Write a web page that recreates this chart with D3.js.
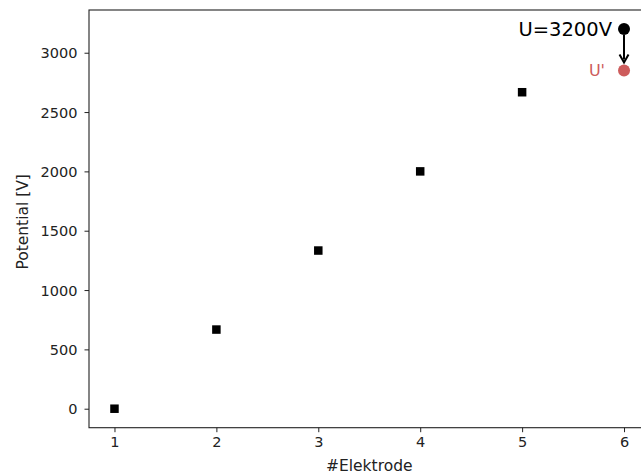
<!DOCTYPE html>
<html><head><meta charset="utf-8">
<script src="https://cdn.jsdelivr.net/npm/d3@7"></script>
<style>
body{margin:0;background:#fff;}
svg{display:block;font-family:"DejaVu Sans",sans-serif;}
</style></head><body>
<svg id="c" width="641" height="475"></svg>
<script>
const electrodes = [1, 2, 3, 4, 5];
const potentials = [0, 667, 1333, 2000, 2667];
const sourceX = 6, sourceU = 3200, primeU = 2850;
const sourceLabel = "U=3200V", primeLabel = "U'";
const xTicks = [1, 2, 3, 4, 5, 6];
const yTicks = [0, 500, 1000, 1500, 2000, 2500, 3000];

const m = {l: 89, t: 10, r: 649.5, b: 427.7};
const svg = d3.select("#c");
const x = d3.scaleLinear().domain([0.75, 6.25]).range([m.l, m.r]);
const y = d3.scaleLinear().domain([-160, 3360]).range([m.b, m.t]);
const red = "#cd5c5c";
const tickFont = 14.5, labelFont = 15.5;

const gx = svg.append("g").attr("transform", `translate(0,${m.b})`)
  .call(d3.axisBottom(x).tickValues(xTicks).tickFormat(d3.format("d")).tickSize(4.5).tickPadding(5));
const gy = svg.append("g").attr("transform", `translate(${m.l},0)`)
  .call(d3.axisLeft(y).tickValues(yTicks).tickFormat(d3.format("d")).tickSize(4.5).tickPadding(7));
[gx, gy].forEach(g => {
  g.select(".domain").remove();
  g.selectAll(".tick line").attr("stroke", "#222").attr("stroke-width", 1);
  g.selectAll(".tick text").attr("font-size", tickFont).attr("fill", "#222").attr("font-family", "DejaVu Sans");
});
gy.selectAll(".tick text").attr("dy", "0.36em");

// spines
svg.append("rect").attr("x", m.l).attr("y", m.t).attr("width", m.r - m.l).attr("height", m.b - m.t)
  .attr("fill", "none").attr("stroke", "#222").attr("stroke-width", 1.1);

// axis labels
svg.append("text").attr("x", (m.l + m.r) / 2).attr("y", 471).attr("text-anchor", "middle")
  .attr("font-size", labelFont).attr("fill", "#222").text("#Elektrode");
svg.append("text").attr("transform", `translate(28,${(m.t + m.b) / 2 + 3}) rotate(-90)`).attr("text-anchor", "middle")
  .attr("font-size", labelFont).attr("fill", "#222").text("Potential [V]");

// squares
const s = 8.5;
svg.append("g").selectAll("rect").data(electrodes).join("rect")
  .attr("x", (d) => x(d) - s / 2).attr("y", (d, i) => y(potentials[i]) - s / 2)
  .attr("width", s).attr("height", s).attr("fill", "#000");

// source and U'
const cx = x(sourceX);
svg.append("circle").attr("cx", cx).attr("cy", y(sourceU)).attr("r", 6).attr("fill", "#000");
svg.append("circle").attr("cx", cx).attr("cy", y(primeU)).attr("r", 6).attr("fill", red);
svg.append("text").attr("x", cx - 12).attr("y", y(sourceU)).attr("dy", "0.36em").attr("text-anchor", "end")
  .attr("font-size", 19.5).attr("fill", "#000").text(sourceLabel);
svg.append("text").attr("x", cx - 19).attr("y", y(primeU)).attr("dy", "0.36em").attr("text-anchor", "end")
  .attr("font-size", 16).attr("fill", red).text(primeLabel);

// arrow
const a0 = y(sourceU) + 6, a1 = y(primeU) - 8;
svg.append("line").attr("x1", cx).attr("x2", cx).attr("y1", a0).attr("y2", a1 - 3)
  .attr("stroke", "#000").attr("stroke-width", 2);
svg.append("path").attr("d", `M${cx - 4.5},${a1 - 8} L${cx},${a1} L${cx + 4.5},${a1 - 8}`)
  .attr("fill", "none").attr("stroke", "#000").attr("stroke-width", 2);
</script></body></html>
